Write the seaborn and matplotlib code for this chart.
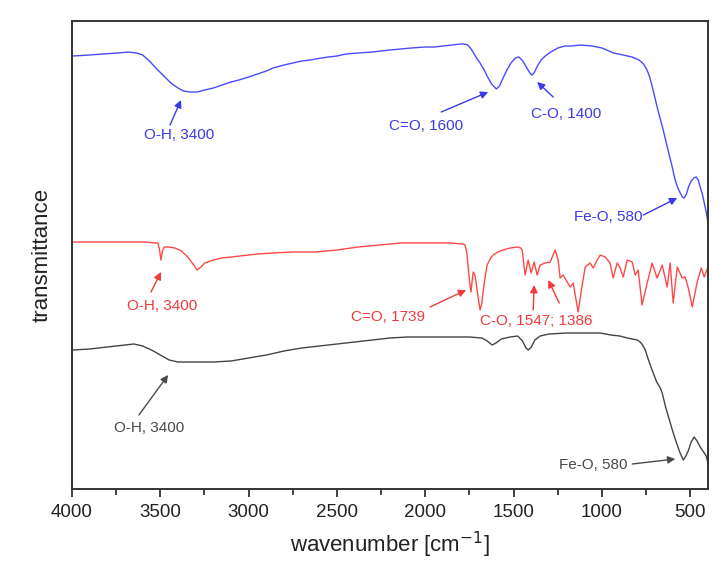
import matplotlib
matplotlib.use('Agg')
import matplotlib.pyplot as plt
from matplotlib.ticker import MultipleLocator, NullLocator
import seaborn as sns

# %% Data (wavenumber in cm-1, transmittance in a.u.)
wn_blue = [3996, 3900, 3827, 3740, 3682, 3634, 3600, 3562, 3520, 3480, 3440, 3400, 3369,
           3330, 3290, 3249, 3200, 3150, 3100, 3056, 3000, 2950, 2900, 2863, 2800, 2750,
           2700, 2650, 2622, 2550, 2500, 2450, 2381, 2300, 2250, 2200, 2140, 2080, 2000,
           1950, 1899, 1850, 1800, 1779, 1760, 1745, 1730, 1710, 1690, 1670, 1650, 1625,
           1598, 1580, 1560, 1538, 1515, 1490, 1470, 1448, 1425, 1408, 1398, 1385, 1365,
           1345, 1321, 1290, 1250, 1210, 1176, 1120, 1055, 1000, 960, 935, 880, 830,
           790, 765, 745, 730, 715, 700, 685, 670, 655, 640, 622, 605, 586, 570, 557,
           545, 535, 522, 510, 495, 480, 467, 455, 444, 432, 421, 410, 400]
t_blue = [433, 434, 435, 436, 437, 436, 434, 428, 420, 413, 406, 401, 398,
          397, 397, 399, 401, 404, 407, 409, 412, 415, 418, 421, 424, 426,
          428, 429, 430, 432, 433, 435, 436, 437, 438, 439, 440, 441, 442,
          442, 443, 444, 445, 445, 444, 441, 437, 431, 426, 420, 413, 405,
          400, 403, 411, 419, 426, 431, 432, 428, 421, 416, 414, 416, 423,
          429, 433, 437, 441, 443, 443, 444, 443, 441, 438, 436, 434, 432,
          429, 425, 419, 412, 402, 391, 380, 370, 360, 349, 336, 324, 309, 301, 296,
          292, 291, 295, 302, 308, 311, 312, 309, 302, 295, 286, 277, 266]

wn_red = [3996, 3800, 3586, 3530, 3514, 3505, 3497, 3488, 3478, 3450, 3417, 3380, 3345,
          3315, 3292, 3270, 3249, 3200, 3152, 3050, 2950, 2863, 2750, 2622, 2500, 2381,
          2260, 2140, 2000, 1899, 1860, 1790, 1775, 1765, 1757, 1748, 1741, 1735, 1729,
          1720, 1712, 1700, 1690, 1680, 1673, 1660, 1650, 1630, 1616, 1590, 1560, 1520,
          1475, 1460, 1452, 1435, 1418, 1401, 1384, 1367, 1350, 1322, 1293, 1265, 1248,
          1237, 1220, 1197, 1180, 1163, 1135, 1112, 1095, 1067, 1050, 1030, 1010, 982,
          954, 937, 914, 897, 880, 857, 829, 812, 795, 773, 744, 716, 688, 659, 631,
          614, 597, 574, 546, 529, 510, 489, 461, 438, 421, 400]
t_red = [247, 247, 247, 246, 246, 240, 229, 238, 242, 242, 241, 238, 232,
         225, 219, 222, 226, 229, 231, 233, 235, 236, 237, 237, 239, 242,
         244, 246, 246, 246, 246, 245, 244, 236, 221, 205, 197, 208, 217,
         214, 206, 190, 179, 186, 197, 214, 224, 231, 234, 237, 239, 241,
         242, 241, 239, 214, 229, 216, 227, 214, 224, 226, 227, 239, 229,
         211, 214, 207, 202, 206, 177, 204, 222, 226, 221, 228, 234, 232,
         226, 211, 226, 221, 212, 229, 227, 214, 219, 184, 206, 226, 211, 224, 202,
         226, 186, 222, 211, 212, 200, 182, 207, 221, 212, 222]

wn_black = [3996, 3900, 3800, 3700, 3650, 3600, 3550, 3500, 3450, 3400, 3300, 3200, 3100,
            3000, 2900, 2800, 2700, 2600, 2500, 2400, 2300, 2200, 2100, 2000, 1900, 1750,
            1680, 1650, 1622, 1600, 1570, 1520, 1477, 1450, 1430, 1417, 1400, 1380, 1350,
            1300, 1200, 1100, 1010, 950, 900, 857, 800, 784, 770, 755, 735, 710, 690,
            670, 659, 640, 620, 600, 580, 560, 540, 525, 510, 495, 478, 462, 444, 421,
            410, 400]
t_black = [139, 140, 142, 144, 145, 143, 139, 134, 129, 127, 127, 127, 128,
           131, 134, 138, 141, 143, 145, 147, 149, 151, 152, 152, 152, 152,
           151, 148, 144, 146, 150, 152, 153, 148, 141, 139, 142, 149, 153,
           155, 156, 156, 156, 154, 153, 151, 149, 147, 144, 139, 128, 116, 107,
           101, 96, 82, 70, 58, 47, 37, 29, 33, 39, 47, 52, 48, 42, 36,
           33, 26]

# annotations: (text, text x, text y, [(arrow tail, arrow tip)], colour key, alignment)
notes = [
    ('O-H, 3400', 3394, 354, [((3445, 364), (3383, 389))], 'blue', 'center'),
    ('C=O, 1600', 1995, 363, [((1910, 377), (1644, 397))], 'blue', 'center'),
    ('C-O, 1400', 1203, 375, [((1276, 392), (1367, 407))], 'blue', 'center'),
    ('Fe-O, 580', 772, 272, [((766, 274), (574, 291))], 'blue', 'right'),
    ('O-H, 3400', 3490, 183, [((3553, 197), (3496, 217))], 'red', 'center'),
    ('C=O, 1739', 2210, 172, [((1973, 182), (1769, 199))], 'red', 'center'),
    ('C-O, 1547; 1386', 1372, 168, [((1389, 179), (1384, 204)),
                                     ((1242, 186), (1304, 209))], 'red', 'center'),
    ('O-H, 3400', 3564, 61, [((3621, 74), (3456, 114))], 'black', 'center'),
    ('Fe-O, 580', 857, 24, [((829, 25), (585, 30))], 'black', 'right'),
]

line_cols = {'blue': '#4a4aff', 'red': '#ff4848', 'black': '#444444'}
text_cols = {'blue': '#3a3ae8', 'red': '#f03a3a', 'black': '#4a4a4a'}

# %% Plot
sns.set_theme(style='ticks')
plt.rcParams['font.family'] = ['Liberation Sans', 'DejaVu Sans']

fig = plt.figure(figsize=(7.28, 5.82), dpi=100)
ax = fig.add_axes([0.0989, 0.1598, 0.8736, 0.8041])

sns.lineplot(x=wn_blue, y=t_blue, color=line_cols['blue'], lw=1.0, sort=False, ax=ax)
sns.lineplot(x=wn_red, y=t_red, color=line_cols['red'], lw=1.0, sort=False, ax=ax)
sns.lineplot(x=wn_black, y=t_black, color=line_cols['black'], lw=1.0, sort=False, ax=ax)

for txt, tx, ty, arrows, key, ha in notes:
    ax.text(tx, ty, txt, color=text_cols[key], fontsize=11, ha=ha, va='center')
    for tail, tip in arrows:
        ax.annotate('', xy=tip, xytext=tail,
                    arrowprops=dict(arrowstyle='-|>', color=text_cols[key], lw=1.0,
                                    mutation_scale=11, shrinkA=0, shrinkB=0))

ax.set_xlim(4000, 400)
ax.set_ylim(0, 468)
ax.xaxis.set_major_locator(MultipleLocator(500))
ax.xaxis.set_minor_locator(MultipleLocator(250))
ax.yaxis.set_major_locator(NullLocator())
ax.tick_params(axis='x', which='major', length=6, width=1.2, labelsize=13.5, pad=5, colors='#222222')
ax.tick_params(axis='x', which='minor', length=4, width=1.2, colors='#222222')
for s in ax.spines.values():
    s.set_linewidth(1.4)
    s.set_color('#333333')

ax.set_xlabel(r'wavenumber [cm$^{-1}$]', fontsize=16, color='#222222', labelpad=6)
ax.set_ylabel('transmittance', fontsize=16, color='#222222', labelpad=14)

fig.savefig('out.png', dpi=100)
